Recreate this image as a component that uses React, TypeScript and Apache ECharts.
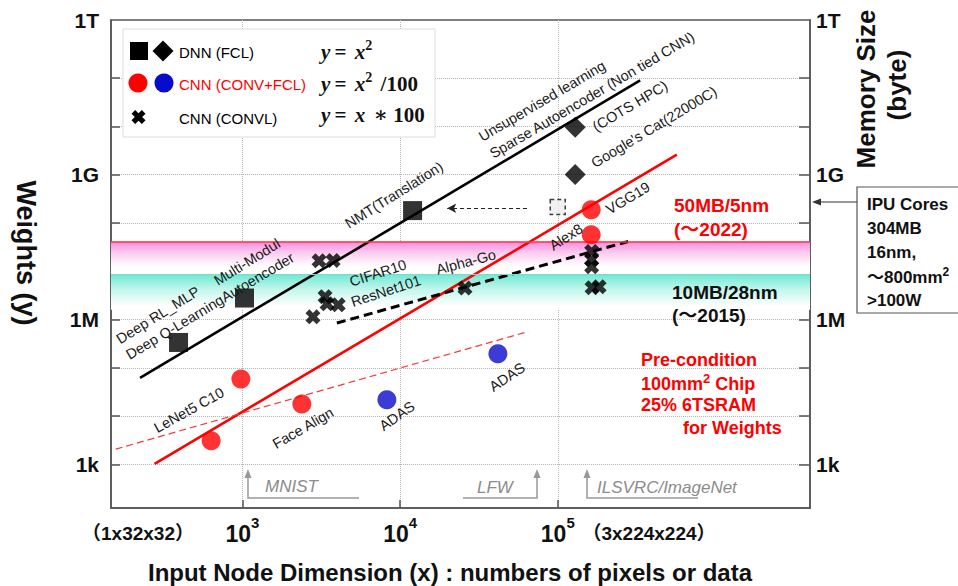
import React, { useEffect, useRef } from 'react';
import * as echarts from 'echarts';

// ---------- axes ----------
const X_MIN = Math.pow(10, 2.166);
const X_MAX = Math.pow(10, 6.6);
const Y_MIN = Math.pow(10, 2.1);
const Y_MAX = Math.pow(10, 12.2);
const xTickValues = [1e3, 1e4, 1e5];
const yTickValues = [1e3, 1e4, 1e5, 1e6, 1e7, 1e8, 1e9, 1e10, 1e11];
const yLabelValues = [1e3, 1e6, 1e9, Math.pow(10, 12.19)];
const yLabelNames = ['1k', '1M', '1G', '1T'];

// ---------- data (x = input node dimension, y = weights) ----------
const dnnSquares = [[393, 3.36e5], [1030, 2.79e6], [12000, 1.8e8]];
const dnnDiamonds = [[1.29e5, 9.5e9], [1.29e5, 1.0e9]];
const cnnRed = [[1.63e5, 1.87e8], [1.63e5, 5.7e7], [977, 5.9e4], [633, 3.1e3], [2380, 1.78e4]];
const cnnBlue = [[8240, 2.19e4], [41700, 1.96e5]];
const convlCross = [
  [3060, 1.65e7], [3760, 1.67e7],
  [3340, 2.97e6], [3440, 2.12e6], [4050, 2.02e6], [2800, 1.14e6],
  [25800, 4.49e6],
  [1.64e5, 2.57e7], [1.64e5, 1.73e7], [1.64e5, 1.24e7], [1.65e5, 4.55e6], [1.83e5, 4.78e6],
];
const hollowSquare = [[1.0e5, 2.13e8]];
const arrowFromTo = [[63800, 2.01e8], [19900, 2.01e8]];

const fitDnn = [[224, 6.24e4], [3.33e5, 8.9e10]];
const fitCnn = [[277, 1030], [5.69e5, 2.58e9]];
const fitCnnDashed = [[157, 2080], [65100, 5.67e5]];
const fitConvl = [[3970, 8.47e5], [2.8e5, 4.14e7]];

const band50MB = [8.5e6, 4.14e7];
const band10MB = [1.6e6, 8.5e6];

const SANS = "'Liberation Sans', Arial, 'Noto Sans CJK JP', sans-serif";
const SERIF = "'Liberation Serif', 'DejaVu Serif', serif";
const CROSS = 'path://M0,2.6 L2.6,0 L5,2.4 L7.4,0 L10,2.6 L7.6,5 L10,7.4 L7.4,10 L5,7.6 L2.6,10 L0,7.4 L2.4,5 Z';
const RED = '#ff0000';
const BLUE = '#0a0acc';

// rotated annotation texts: [text, cx, cy, angleDeg]
const annotations: [string, number, number, number][] = [
  ['Deep RL_MLP', 158, 315, 32],
  ['Deep Q-LearningAutoencoder', 210, 306, 31],
  ['Multi-Modul', 247, 262, 32],
  ['NMT(Translation)', 394, 195, 32],
  ['Unsupervised learning', 542, 101, 30.5],
  ['Sparse Autoencoder (Non tied CNN)', 592, 95, 30.5],
  ['(COTS HPC)', 630, 106, 31],
  ["Google's Cat(22000C)", 654, 127, 31],
  ['VGG19', 628, 198, 31],
  ['Alex8', 566, 237, 33],
  ['CIFAR10', 378, 273, 18],
  ['ResNet101', 386, 291, 18],
  ['Alpha-Go', 466, 262, 15],
  ['LeNet5 C10', 189, 410, 29],
  ['Face Align', 303, 428, 30],
  ['ADAS', 397, 416, 35],
  ['ADAS', 507, 377, 34],
];

function txt(text: string, x: number, y: number, opts: any = {}) {
  const align = opts.align || 'left';
  const va = opts.verticalAlign || 'middle';
  return {
    type: 'text',
    x,
    y,
    rotation: opts.rotation || 0,
    z: 50,
    style: {
      text,
      x: 0,
      y: 0,
      align,
      verticalAlign: va,
      textAlign: align,
      textVerticalAlign: va,
      fontSize: opts.fontSize || 15,
      fontWeight: opts.fontWeight || 'normal',
      fontStyle: opts.fontStyle || 'normal',
      fontFamily: opts.fontFamily || SANS,
      fill: opts.color || '#1a1a1a',
      rich: opts.rich,
    },
  };
}

function crossPoints(cx: number, cy: number, size: number) {
  const base = [[0, 2.6], [2.6, 0], [5, 2.4], [7.4, 0], [10, 2.6], [7.6, 5], [10, 7.4], [7.4, 10], [5, 7.6], [2.6, 10], [0, 7.4], [2.4, 5]];
  const s = size / 10;
  return base.map(([a, b]) => [cx - size / 2 + a * s, cy - size / 2 + b * s]);
}

function arrowUp(x: number, y: number) {
  return { type: 'polygon', z: 50, shape: { points: [[x, y - 2], [x - 3.5, y + 7], [x + 3.5, y + 7]] }, style: { fill: '#999' } };
}

export default function App() {
  const ref = useRef<HTMLDivElement>(null);
  useEffect(() => {
    if (!ref.current) return;
    const chart = echarts.init(ref.current, undefined, { renderer: 'svg' });

    const eqRich = {
      v: { fontFamily: SERIF, fontStyle: 'italic', fontWeight: 'bold', fontSize: 21, lineHeight: 24, verticalAlign: 'bottom', color: '#111' },
      n: { fontFamily: SERIF, fontWeight: 'bold', fontSize: 21, lineHeight: 24, verticalAlign: 'bottom', color: '#111' },
      s: { fontFamily: SERIF, fontWeight: 'bold', fontSize: 14, verticalAlign: 'top', color: '#111' },
    };
    const supRich = {
      b: { fontFamily: SANS, fontWeight: 'bold', fontSize: 18, lineHeight: 21, verticalAlign: 'bottom', color: RED },
      s: { fontFamily: SANS, fontWeight: 'bold', fontSize: 13, verticalAlign: 'top', color: RED },
    };
    const supRichBlack = {
      b: { fontFamily: SANS, fontWeight: 'bold', fontSize: 17, lineHeight: 20, verticalAlign: 'bottom', color: '#111' },
      s: { fontFamily: SANS, fontWeight: 'bold', fontSize: 12, verticalAlign: 'top', color: '#111' },
    };

    const graphic: any[] = [
      // legend box
      { type: 'rect', z: 40, shape: { x: 123, y: 29, width: 312, height: 108 }, style: { fill: '#fff', stroke: '#dcdcdc', lineWidth: 1 } },
      { type: 'rect', z: 45, shape: { x: 130, y: 42, width: 18, height: 18 }, style: { fill: '#000' } },
      { type: 'polygon', z: 45, shape: { points: [[163, 40.5], [173.5, 51], [163, 61.5], [152.5, 51]] }, style: { fill: '#000' } },
      { type: 'circle', z: 45, shape: { cx: 138, cy: 83, r: 9.5 }, style: { fill: RED } },
      { type: 'circle', z: 45, shape: { cx: 164, cy: 83, r: 9.5 }, style: { fill: BLUE } },
      { type: 'polygon', z: 45, shape: { points: crossPoints(138.5, 117, 14) }, style: { fill: '#000' } },
      txt('DNN (FCL)', 179, 52, { fontSize: 15, color: '#000' }),
      txt('CNN (CONV+FCL)', 179, 84, { fontSize: 15, color: RED }),
      txt('CNN (CONVL)', 179, 118, { fontSize: 15, color: '#000' }),
      txt('{v|y} {n|=}  {v|x}{s|2}', 321, 50, { rich: eqRich, color: '#111' }),
      txt('{v|y} {n|=}  {v|x}{s|2}  {n|/100}', 321, 82, { rich: eqRich, color: '#111' }),
      txt('{v|y} {n|=}  {v|x}  {n|∗ 100}', 321, 113, { rich: eqRich, color: '#111' }),

      // axis names
      txt('Weights (y)', 26, 253, { fontSize: 27, fontWeight: 'bold', align: 'center', rotation: -Math.PI / 2, color: '#111' }),
      txt('Memory Size', 866, 89, { fontSize: 26, fontWeight: 'bold', align: 'center', rotation: Math.PI / 2, color: '#111' }),
      txt('(byte)', 897, 85, { fontSize: 26, fontWeight: 'bold', align: 'center', rotation: Math.PI / 2, color: '#111' }),
      txt('Input Node Dimension (x) : numbers of pixels or data', 450, 572, { fontSize: 24, fontWeight: 'bold', align: 'center', color: '#111' }),
      txt('（1x32x32）', 138, 533, { fontSize: 19, fontWeight: 'bold', align: 'center', color: '#111' }),
      txt('（3x224x224）', 649, 533, { fontSize: 19, fontWeight: 'bold', align: 'center', color: '#111' }),

      // memory annotations
      txt('50MB/5nm', 674, 205, { fontSize: 19, fontWeight: 'bold', color: RED }),
      txt('(～2022)', 674, 229, { fontSize: 19, fontWeight: 'bold', color: RED }),
      txt('10MB/28nm', 672, 292, { fontSize: 19, fontWeight: 'bold', color: '#111' }),
      txt('(～2015)', 672, 315, { fontSize: 19, fontWeight: 'bold', color: '#111' }),
      txt('Pre-condition', 641, 360, { fontSize: 18, fontWeight: 'bold', color: RED }),
      txt('{b|100mm}{s|2}{b| Chip}', 641, 382, { rich: supRich, color: RED }),
      txt('25% 6TSRAM', 641, 405, { fontSize: 18, fontWeight: 'bold', color: RED }),
      txt('for Weights', 683, 428, { fontSize: 18, fontWeight: 'bold', color: RED }),

      // IPU box
      { type: 'rect', z: 40, shape: { x: 857, y: 187, width: 130, height: 126 }, style: { fill: '#fff', stroke: '#555', lineWidth: 1.2 } },
      { type: 'line', z: 40, shape: { x1: 857, y1: 202, x2: 818, y2: 202 }, style: { stroke: '#333', lineWidth: 1.2 } },
      { type: 'polygon', z: 40, shape: { points: [[812, 202], [821, 198.5], [821, 205.5]] }, style: { fill: '#333' } },
      txt('IPU Cores', 867, 204, { fontSize: 17, fontWeight: 'bold', color: '#111' }),
      txt('304MB', 867, 228, { fontSize: 17, fontWeight: 'bold', color: '#111' }),
      txt('16nm,', 867, 252, { fontSize: 17, fontWeight: 'bold', color: '#111' }),
      txt('{b|～800mm}{s|2}', 867, 276, { rich: supRichBlack, color: '#111' }),
      txt('>100W', 867, 300, { fontSize: 17, fontWeight: 'bold', color: '#111' }),

      // dataset brackets
      { type: 'polyline', z: 50, shape: { points: [[248, 474], [248, 498], [359, 498]] }, style: { stroke: '#999', lineWidth: 1.5, fill: 'none' } },
      arrowUp(248, 471),
      txt('MNIST', 265, 486, { fontSize: 17, fontStyle: 'italic', color: '#8c8c8c' }),
      { type: 'polyline', z: 50, shape: { points: [[463, 498], [537, 498], [537, 474]] }, style: { stroke: '#999', lineWidth: 1.5, fill: 'none' } },
      arrowUp(537, 471),
      txt('LFW', 477, 487, { fontSize: 17, fontStyle: 'italic', color: '#8c8c8c' }),
      { type: 'polyline', z: 50, shape: { points: [[587, 474], [587, 498], [698, 498]] }, style: { stroke: '#999', lineWidth: 1.5, fill: 'none' } },
      arrowUp(587, 471),
      txt('ILSVRC/ImageNet', 597, 487, { fontSize: 17, fontStyle: 'italic', color: '#8c8c8c' }),
    ];

    annotations.forEach(([t, cx, cy, ang]) => {
      graphic.push(txt(t, cx, cy, { fontSize: 14.5, align: 'center', rotation: (ang * Math.PI) / 180, color: '#1a1a1a' }));
    });

    const grad = (stops: [number, string][]) =>
      new echarts.graphic.LinearGradient(0, 0, 0, 1, stops.map(([offset, color]) => ({ offset, color })));

    const yLabelFormatter = (v: number) => {
      const e = Math.log10(v);
      let best = 0;
      yLabelValues.forEach((lv, i) => {
        if (Math.abs(Math.log10(lv) - e) < Math.abs(Math.log10(yLabelValues[best]) - e)) best = i;
      });
      return yLabelNames[best];
    };

    const yAxisBase = {
      type: 'log',
      logBase: 10,
      min: Y_MIN,
      max: Y_MAX,
      axisLine: { show: true, lineStyle: { color: '#555', width: 1.5 } },
      minorTick: { show: false },
      minorSplitLine: { show: false },
    };

    const option: any = {
      animation: false,
      backgroundColor: '#fff',
      grid: { left: 111, top: 20, width: 699, height: 488, show: true, borderColor: '#555', borderWidth: 1.5, backgroundColor: 'transparent' },
      xAxis: {
        type: 'log',
        logBase: 10,
        min: X_MIN,
        max: X_MAX,
        axisLine: { show: true, lineStyle: { color: '#555', width: 1.5 } },
        axisTick: { show: true, inside: true, length: 8, customValues: xTickValues, lineStyle: { color: '#555', width: 1.5 } },
        axisLabel: {
          customValues: xTickValues,
          margin: 7,
          formatter: (v: number) => `{b|10}{s|${Math.round(Math.log10(v))}}`,
          rich: {
            b: { fontFamily: SANS, fontWeight: 'bold', fontSize: 23, color: '#111', lineHeight: 30, verticalAlign: 'bottom' },
            s: { fontFamily: SANS, fontWeight: 'bold', fontSize: 15, color: '#111', verticalAlign: 'top' },
          },
        },
        splitLine: { show: true, lineStyle: { type: 'dotted', color: '#b5b5b5', width: 1 } },
      },
      yAxis: [
        {
          ...yAxisBase,
          position: 'left',
          axisTick: { show: true, inside: true, length: 9, customValues: yTickValues, lineStyle: { color: '#555', width: 1.5 } },
          axisLabel: { customValues: yLabelValues, formatter: yLabelFormatter, margin: 12, fontSize: 21, fontWeight: 'bold', fontFamily: SANS, color: '#111', showMaxLabel: true },
          splitLine: { show: true, lineStyle: { type: 'dotted', color: '#b5b5b5', width: 1 } },
        },
        {
          ...yAxisBase,
          position: 'right',
          axisTick: { show: true, inside: true, length: 11, customValues: yTickValues, lineStyle: { color: '#555', width: 1.5 } },
          axisLabel: { customValues: yLabelValues, formatter: yLabelFormatter, margin: 6, fontSize: 21, fontWeight: 'bold', fontFamily: SANS, color: '#111', showMaxLabel: true },
          splitLine: { show: false },
        },
      ],
      graphic,
      series: [
        {
          name: 'bands',
          type: 'line',
          data: [],
          z: 1,
          silent: true,
          markArea: {
            silent: true,
            data: [
              [
                { yAxis: band50MB[0], itemStyle: { color: grad([[0, '#f58ae0'], [0.35, '#fbcdf0'], [0.75, '#ffffff']]) } },
                { yAxis: band50MB[1] },
              ],
              [
                { yAxis: band10MB[0], itemStyle: { color: grad([[0, '#6ee9d3'], [0.4, '#c0f5eb'], [0.9, '#ffffff']]) } },
                { yAxis: band10MB[1] },
              ],
            ],
          },
          markLine: {
            silent: true,
            symbol: ['none', 'none'],
            label: { show: false },
            data: [
              { yAxis: band50MB[1], lineStyle: { color: '#ff3a3a', width: 1.5, type: 'solid' } },
              { yAxis: band10MB[1], lineStyle: { color: '#86d6cf', width: 1.2, type: 'solid' } },
            ],
          },
        },
        { name: 'fitDnn', type: 'line', data: fitDnn, symbol: 'none', z: 3, lineStyle: { color: '#000', width: 2.6 } },
        { name: 'fitCnn', type: 'line', data: fitCnn, symbol: 'none', z: 3, lineStyle: { color: RED, width: 2.6 } },
        { name: 'fitCnnDashed', type: 'line', data: fitCnnDashed, symbol: 'none', z: 3, lineStyle: { color: '#f03c3c', width: 1.2, type: [7, 4] } },
        { name: 'fitConvl', type: 'line', data: fitConvl, symbol: 'none', z: 3, lineStyle: { color: '#000', width: 3, type: [9, 5] } },
        {
          name: 'hollow',
          type: 'scatter',
          data: hollowSquare,
          symbol: 'rect',
          symbolSize: 15,
          z: 5,
          itemStyle: { color: '#eeeeee', borderColor: '#111', borderWidth: 1.5, borderType: [4, 3] },
          markLine: {
            silent: true,
            symbol: ['none', 'arrow'],
            symbolSize: [7, 9],
            label: { show: false },
            lineStyle: { color: '#222', width: 1.2, type: [4, 3] },
            data: [[{ coord: arrowFromTo[0] }, { coord: arrowFromTo[1] }]],
          },
        },
        { name: 'DNN squares', type: 'scatter', data: dnnSquares, symbol: 'rect', symbolSize: 19, z: 6, itemStyle: { color: '#000' } },
        { name: 'DNN diamonds', type: 'scatter', data: dnnDiamonds, symbol: 'diamond', symbolSize: 21, z: 6, itemStyle: { color: '#000' } },
        { name: 'CNN red', type: 'scatter', data: cnnRed, symbol: 'circle', symbolSize: 19, z: 6, itemStyle: { color: RED } },
        { name: 'CNN blue', type: 'scatter', data: cnnBlue, symbol: 'circle', symbolSize: 19, z: 6, itemStyle: { color: BLUE } },
        { name: 'CONVL', type: 'scatter', data: convlCross, symbol: CROSS, symbolSize: 15, z: 6, itemStyle: { color: '#000' } },
      ],
    };
    chart.setOption(option);
    return () => chart.dispose();
  }, []);

  return <div ref={ref} style={{ position: 'fixed', left: 0, top: 0, width: 958, height: 586, background: '#fff' }} />;
}
